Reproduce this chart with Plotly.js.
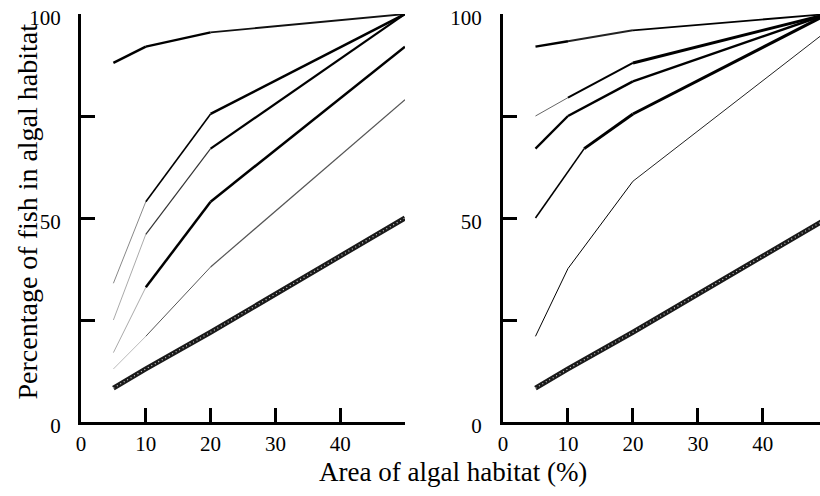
<!DOCTYPE html>
<html>
<head>
<meta charset="utf-8">
<script src="https://cdn.plot.ly/plotly-3.0.1.min.js"></script>
<style>html,body{margin:0;padding:0;background:#fff;}#chart{width:820px;height:496px;}</style>
</head>
<body>
<div id="chart"></div>
<script>
// ---- Data ----
// Left panel
const leftTopX = [5, 10, 20, 50];
const leftTopY = [88, 92, 95.5, 100];
const leftAX = [5, 10, 20, 50];
const leftAY = [34, 54, 75.5, 100];
const leftBX = [5, 10, 20, 50];
const leftBY = [25, 46, 67, 100];
const leftCX = [5, 10, 20, 50];
const leftCY = [17, 33, 54, 92];
const leftDX = [5, 10, 20, 50];
const leftDY = [13, 21, 38, 79];
const leftRefX = [5, 10, 20, 50];
const leftRefY = [8.3, 13, 22, 50];
// Right panel
const rightTopX = [5, 10, 20, 50];
const rightTopY = [92, 93.3, 96, 100];
const rightBX = [5, 10, 20, 50];
const rightBY = [75, 79.5, 88, 100];
const rightCX = [5, 10, 20, 50];
const rightCY = [67, 75, 83.5, 100];
const rightDX = [5, 12.5, 20, 50];
const rightDY = [50, 67, 75.5, 100];
const rightEX = [5, 10, 20, 50];
const rightEY = [21, 37.6, 59, 96];
const rightRefX = [5, 10, 20, 50];
const rightRefY = [8.3, 13, 22, 50];

// Tick labels
const xTickVals = [0, 10, 20, 30, 40, 50];
const xTickText = ["0", "10", "20", "30", "40", ""];
const yTickVals = [0, 25, 50, 75, 100];
const yTickText = ["0", "", "50", "", "100"];

const xTitle = "Area of algal habitat (%)";
const yTitle = "Percentage of fish in algal habitat";

// ---- Styles (per segment) ----
const SERIF = 'Liberation Serif';
const traces = [];
function addSeries(xs, ys, widths, colors, xa, ya) {
  for (let i = 0; i < xs.length - 1; i++) {
    traces.push({
      type: 'scatter', mode: 'lines',
      x: [xs[i], xs[i + 1]], y: [ys[i], ys[i + 1]],
      xaxis: xa, yaxis: ya,
      line: {color: colors[i], width: widths[i]},
      hoverinfo: 'skip', showlegend: false
    });
  }
}
function addRef(xs, ys, xa, ya) {
  traces.push({type: 'scatter', mode: 'lines', x: xs, y: ys, xaxis: xa, yaxis: ya,
    line: {color: '#1a1a1a', width: 5}, hoverinfo: 'skip', showlegend: false});
  traces.push({type: 'scatter', mode: 'lines', x: xs, y: ys, xaxis: xa, yaxis: ya,
    line: {color: '#cfcfcf', width: 1.2, dash: '1px,3px'}, hoverinfo: 'skip', showlegend: false});
}

addSeries(leftTopX, leftTopY, [2.5, 2.2, 1.8], ['#000', '#000', '#111'], 'x', 'y');
addSeries(leftAX, leftAY, [1, 1.6, 2.5], ['#888', '#000', '#000'], 'x', 'y');
addSeries(leftBX, leftBY, [1, 1.2, 2.2], ['#aaa', '#333', '#000'], 'x', 'y');
addSeries(leftCX, leftCY, [1, 2.5, 2.5], ['#aaa', '#000', '#000'], 'x', 'y');
addSeries(leftDX, leftDY, [1, 1, 1.2], ['#bbb', '#555', '#555'], 'x', 'y');
addRef(leftRefX, leftRefY, 'x', 'y');

addSeries(rightTopX, rightTopY, [2.5, 2, 1.8], ['#000', '#222', '#000'], 'x2', 'y2');
addSeries(rightBX, rightBY, [1, 2, 3], ['#666', '#000', '#000'], 'x2', 'y2');
addSeries(rightCX, rightCY, [2.3, 2.5, 2.5], ['#000', '#000', '#000'], 'x2', 'y2');
addSeries(rightDX, rightDY, [1.6, 3, 3], ['#000', '#000', '#000'], 'x2', 'y2');
addSeries(rightEX, rightEY, [1, 1, 1], ['#000', '#000', '#222'], 'x2', 'y2');
addRef(rightRefX, rightRefY, 'x2', 'y2');

function tf() { return {family: SERIF, size: 21, color: '#000'}; }
function xAxis(domain, range, anchor) {
  return {domain: domain, range: range, anchor: anchor, showgrid: false, zeroline: false,
    showline: true, linewidth: 3, linecolor: '#000', ticks: 'inside', ticklen: 14,
    tickwidth: 3, tickcolor: '#000', tickmode: 'array', tickvals: xTickVals, ticktext: xTickText,
    tickfont: tf(), ticklabelstandoff: 1, fixedrange: true};
}
function yAxis(anchor, standoff) {
  return {domain: [0, 1], range: [0, 100], anchor: anchor, showgrid: false, zeroline: false,
    showline: true, linewidth: 3, linecolor: '#000', ticks: 'inside', ticklen: 14,
    tickwidth: 3, tickcolor: '#000', tickmode: 'array', tickvals: yTickVals, ticktext: yTickText,
    tickfont: tf(), ticklabelshift: 4, ticklabelstandoff: standoff, fixedrange: true};
}

const W = 820, H = 496, T = 14, B = 74;
const layout = {
  width: W, height: H,
  margin: {l: 0, r: 0, t: T, b: B, pad: 0},
  paper_bgcolor: '#fff', plot_bgcolor: 'rgba(0,0,0,0)',
  showlegend: false,
  xaxis: xAxis([81 / W, 405 / W], [0, 50], 'y'),
  yaxis: yAxis('x', 13),
  xaxis2: xAxis([503 / W, 1], [0, 48.8], 'y2'),
  yaxis2: yAxis('x2', 14),
  annotations: [
    {text: xTitle, xref: 'paper', yref: 'paper', x: 452.5 / W, y: (422 - 472) / 408,
      xanchor: 'center', yanchor: 'middle', showarrow: false,
      font: {family: SERIF, size: 27, color: '#000'}},
    {text: yTitle, xref: 'paper', yref: 'paper', x: 27 / W, y: (422 - 211.5) / 408,
      xanchor: 'center', yanchor: 'middle', showarrow: false, textangle: -90,
      font: {family: SERIF, size: 28, color: '#000'}}
  ]
};

Plotly.newPlot('chart', traces, layout, {staticPlot: true, displayModeBar: false});
</script>
</body>
</html>
